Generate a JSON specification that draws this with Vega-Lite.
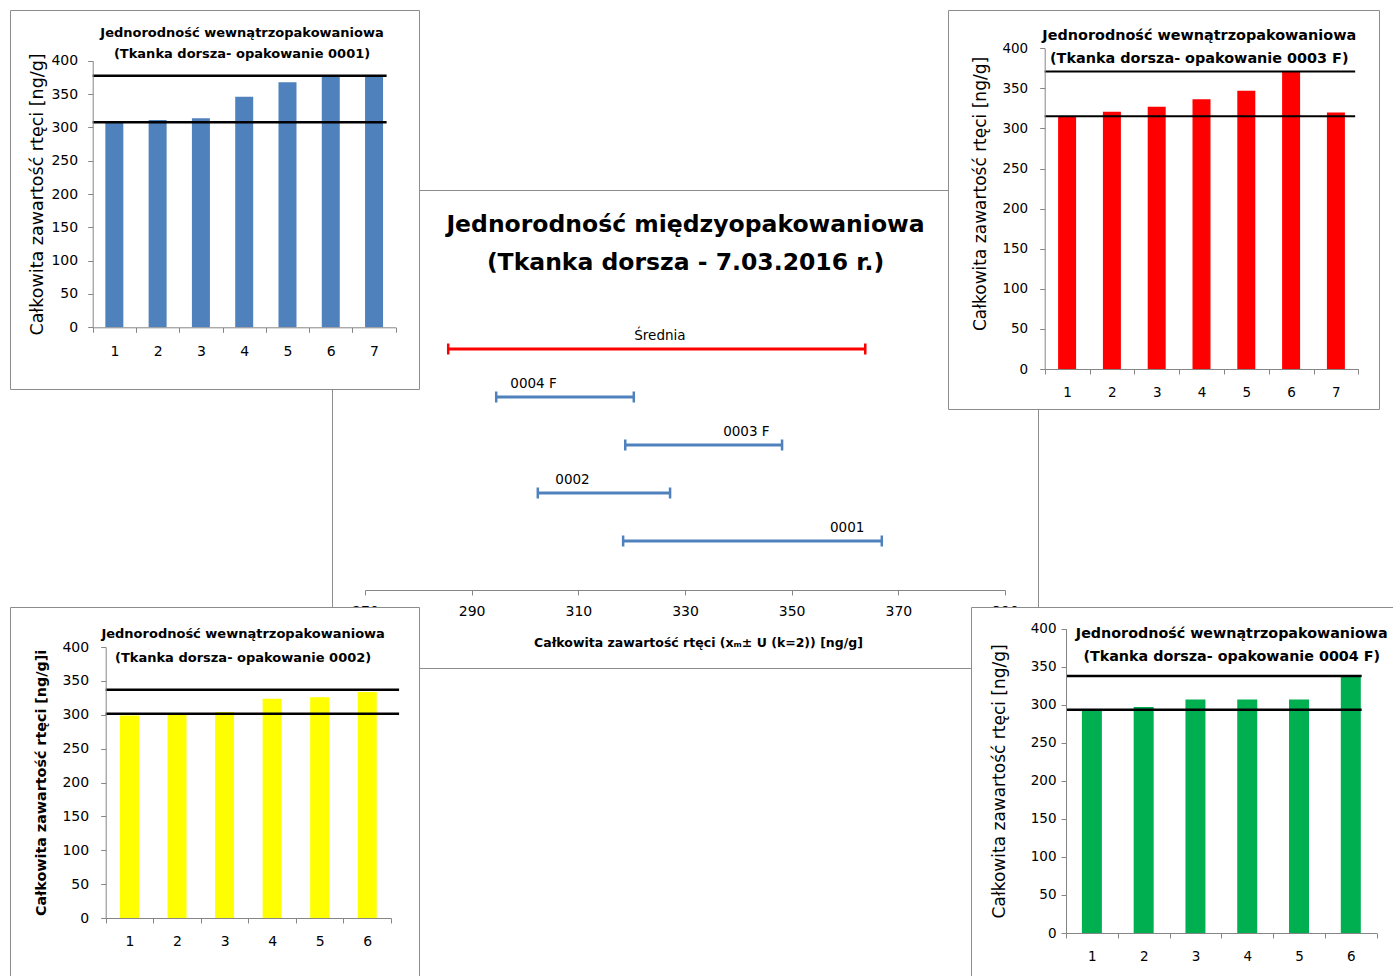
{
  "$schema": "https://vega.github.io/schema/vega-lite/v6.json",
  "width": 1393,
  "height": 976,
  "padding": 0,
  "autosize": {"type": "none"},
  "background": "#ffffff",
  "config": {
    "view": {"stroke": null},
    "font": "DejaVu Sans",
    "text": {"font": "DejaVu Sans", "color": "#000000"},
    "scale": {"zero": false, "continuousPadding": 0},
    "axis": {
      "grid": false,
      "domainColor": "#868686",
      "tickColor": "#868686",
      "labelColor": "#000000",
      "titleColor": "#000000",
      "tickSize": 5,
      "labelFont": "DejaVu Sans",
      "titleFont": "DejaVu Sans",
      "labelFlush": false,
      "labelOverlap": false
    }
  },
  "layer": [
    {
      "layer": [
        {
          "data": {"values": [{"k": 1}]},
          "layer": [
            {
              "mark": {"type": "rect", "filled": false, "stroke": "#8c8c8c", "strokeWidth": 1},
              "encoding": {
                "x": {"datum": 0, "type": "quantitative", "scale": {"domain": [0, 1], "range": [332.5, 1038.5], "nice": false}, "axis": null},
                "x2": {"datum": 1},
                "y": {"datum": 0, "type": "quantitative", "scale": {"domain": [0, 1], "range": [190.5, 668.5], "nice": false}, "axis": null},
                "y2": {"datum": 1}
              }
            },
            {
              "mark": {"type": "text", "fontWeight": "bold", "fontSize": 23.5, "lineHeight": 38, "align": "center", "baseline": "middle"},
              "encoding": {
                "x": {"datum": 0.5, "type": "quantitative", "axis": null},
                "y": {"datum": 0.072, "type": "quantitative", "axis": null},
                "text": {"value": ["Jednorodność międzyopakowaniowa", "(Tkanka dorsza - 7.03.2016 r.)"]}
              }
            }
          ]
        },
        {
          "data": {"values": [
            {"name": "Średnia", "lo": 285.6, "hi": 363.8, "lx": 325.3},
            {"name": "0004 F", "lo": 294.6, "hi": 320.4, "lx": 301.6},
            {"name": "0003 F", "lo": 318.8, "hi": 348.2, "lx": 341.5},
            {"name": "0002", "lo": 302.4, "hi": 327.2, "lx": 308.9},
            {"name": "0001", "lo": 318.4, "hi": 366.9, "lx": 360.4}
          ]},
          "layer": [
            {
              "mark": {"type": "rule", "strokeWidth": 3},
              "encoding": {
                "x": {"field": "lo", "type": "quantitative",
                  "scale": {"domain": [270, 390], "range": [365, 1005], "nice": false, "padding": 0},
                  "axis": {"orient": "bottom", "offset": -386, "values": [270, 290, 310, 330, 350, 370, 390],
                    "labelFontSize": 14, "labelPadding": 9,
                    "title": "Całkowita zawartość rtęci (xₘ± U (k=2)) [ng/g]",
                    "titleFontSize": 12.5, "titleFontWeight": "bold", "titleX": 698, "titleY": 46,
                    "titleBaseline": "top", "titleAlign": "center", "zindex": 0}},
                "x2": {"field": "hi"},
                "y": {"field": "name", "type": "nominal",
                  "scale": {"type": "point", "domain": ["Średnia", "0004 F", "0003 F", "0002", "0001"], "range": [349, 541], "padding": 0},
                  "axis": null},
                "color": {"field": "name", "type": "nominal",
                  "scale": {"domain": ["Średnia", "0004 F", "0003 F", "0002", "0001"], "range": ["#ff0000", "#4f81bd", "#4f81bd", "#4f81bd", "#4f81bd"]},
                  "legend": null}
              }
            },
            {
              "mark": {"type": "tick", "thickness": 2.5, "size": 11, "opacity": 1},
              "encoding": {
                "x": {"field": "lo", "type": "quantitative"},
                "y": {"field": "name", "type": "nominal", "axis": null},
                "color": {"field": "name", "type": "nominal", "legend": null}
              }
            },
            {
              "mark": {"type": "tick", "thickness": 2.5, "size": 11, "opacity": 1},
              "encoding": {
                "x": {"field": "hi", "type": "quantitative"},
                "y": {"field": "name", "type": "nominal", "axis": null},
                "color": {"field": "name", "type": "nominal", "legend": null}
              }
            },
            {
              "mark": {"type": "text", "fontSize": 13.5, "dy": -13, "align": "center", "baseline": "middle", "color": "#000000"},
              "encoding": {
                "x": {"field": "lx", "type": "quantitative"},
                "y": {"field": "name", "type": "nominal", "axis": null},
                "text": {"field": "name", "type": "nominal"}
              }
            }
          ]
        }
      ],
      "resolve": {"scale": {"x": "independent", "y": "independent"}}
    },
    {
      "layer": [
        {
          "data": {"values": [{"k": 1}]},
          "mark": {"type": "rect", "fill": "#ffffff", "stroke": "#8c8c8c", "strokeWidth": 1},
          "encoding": {
            "x": {"datum": 0, "type": "quantitative", "scale": {"domain": [0, 1], "range": [10.5, 419.5], "nice": false}, "axis": null},
            "x2": {"datum": 1},
            "y": {"datum": 0, "type": "quantitative", "scale": {"domain": [0, 1], "range": [10.5, 389.5], "nice": false}, "axis": null},
            "y2": {"datum": 1}
          }
        },
        {
          "layer": [
            {
              "data": {"values": [
                {"n": 1, "v": 308}, {"n": 2, "v": 311}, {"n": 3, "v": 313.5}, {"n": 4, "v": 346},
                {"n": 5, "v": 367.5}, {"n": 6, "v": 377.5}, {"n": 7, "v": 377.5}
              ]},
              "mark": {"type": "bar", "color": "#4f81bd", "width": 18, "orient": "vertical"},
              "encoding": {
                "x": {"field": "n", "type": "quantitative",
                  "scale": {"domain": [0.5, 7.5], "range": [92.7, 395.7], "nice": false, "padding": 0},
                  "axis": {"orient": "bottom", "offset": -648.7, "values": [0.5, 1.5, 2.5, 3.5, 4.5, 5.5, 6.5, 7.5],
                    "labelExpr": "datum.value < 7 ? format(datum.value + 0.5, 'd') : ''",
                    "labelOffset": 21.65, "labelFontSize": 14, "labelPadding": 12, "title": null, "zindex": 1}},
                "y": {"field": "v", "type": "quantitative",
                  "scale": {"domain": [0, 400], "range": [327.3, 60.7], "nice": false},
                  "axis": {"orient": "left", "offset": -92.7, "values": [0, 50, 100, 150, 200, 250, 300, 350, 400],
                    "labelFontSize": 14, "labelPadding": 10,
                    "title": "Całkowita zawartość rtęci [ng/g]", "titleFontSize": 17.5, "titleFontWeight": "normal",
                    "titlePadding": 4, "zindex": 1}}
              }
            },
            {
              "data": {"values": [{"t": 377.5}, {"t": 307.5}]},
              "mark": {"type": "rule", "color": "#000000", "strokeWidth": 2.5},
              "encoding": {
                "x": {"datum": 0.5, "type": "quantitative"},
                "x2": {"datum": 7.29},
                "y": {"field": "t", "type": "quantitative"}
              }
            },
            {
              "data": {"values": [{"k": 1}]},
              "mark": {"type": "text", "fontWeight": "bold", "fontSize": 13, "lineHeight": 21.3, "align": "center", "baseline": "middle"},
              "encoding": {
                "x": {"datum": 3.95, "type": "quantitative"},
                "y": {"datum": 442, "type": "quantitative"},
                "text": {"value": ["Jednorodność wewnątrzopakowaniowa", "(Tkanka dorsza- opakowanie 0001)"]}
              }
            }
          ]
        }
      ],
      "resolve": {"scale": {"x": "independent", "y": "independent"}}
    },
    {
      "layer": [
        {
          "data": {"values": [{"k": 1}]},
          "mark": {"type": "rect", "fill": "#ffffff", "stroke": "#8c8c8c", "strokeWidth": 1},
          "encoding": {
            "x": {"datum": 0, "type": "quantitative", "scale": {"domain": [0, 1], "range": [948.5, 1379.5], "nice": false}, "axis": null},
            "x2": {"datum": 1},
            "y": {"datum": 0, "type": "quantitative", "scale": {"domain": [0, 1], "range": [10.5, 409.5], "nice": false}, "axis": null},
            "y2": {"datum": 1}
          }
        },
        {
          "layer": [
            {
              "data": {"values": [
                {"n": 1, "v": 315}, {"n": 2, "v": 321}, {"n": 3, "v": 327}, {"n": 4, "v": 336.4},
                {"n": 5, "v": 347}, {"n": 6, "v": 371}, {"n": 7, "v": 320}
              ]},
              "mark": {"type": "bar", "color": "#ff0000", "width": 18, "orient": "vertical"},
              "encoding": {
                "x": {"field": "n", "type": "quantitative",
                  "scale": {"domain": [0.5, 7.5], "range": [1044.7, 1358.3], "nice": false, "padding": 0},
                  "axis": {"orient": "bottom", "offset": -607, "values": [0.5, 1.5, 2.5, 3.5, 4.5, 5.5, 6.5, 7.5],
                    "labelExpr": "datum.value < 7 ? format(datum.value + 0.5, 'd') : ''",
                    "labelOffset": 22.4, "labelFontSize": 13.5, "labelPadding": 11, "title": null, "zindex": 1}},
                "y": {"field": "v", "type": "quantitative",
                  "scale": {"domain": [0, 400], "range": [369, 48.3], "nice": false},
                  "axis": {"orient": "left", "offset": -1044.7, "values": [0, 50, 100, 150, 200, 250, 300, 350, 400],
                    "labelFontSize": 13.5, "labelPadding": 12,
                    "title": "Całkowita zawartość rtęci [ng/g]", "titleFontSize": 17, "titleFontWeight": "normal",
                    "titlePadding": 12, "titleY": 193.5, "zindex": 1}}
              }
            },
            {
              "data": {"values": [{"t": 371}, {"t": 315.2}]},
              "mark": {"type": "rule", "color": "#000000", "strokeWidth": 2},
              "encoding": {
                "x": {"datum": 0.5, "type": "quantitative"},
                "x2": {"datum": 7.43},
                "y": {"field": "t", "type": "quantitative"}
              }
            },
            {
              "data": {"values": [{"k": 1}]},
              "mark": {"type": "text", "fontWeight": "bold", "fontSize": 14.4, "lineHeight": 23.3, "align": "center", "baseline": "middle"},
              "encoding": {
                "x": {"datum": 3.95, "type": "quantitative"},
                "y": {"datum": 415.3, "type": "quantitative"},
                "text": {"value": ["Jednorodność wewnątrzopakowaniowa", "(Tkanka dorsza- opakowanie 0003 F)"]}
              }
            }
          ]
        }
      ],
      "resolve": {"scale": {"x": "independent", "y": "independent"}}
    },
    {
      "layer": [
        {
          "data": {"values": [{"k": 1}]},
          "mark": {"type": "rect", "fill": "#ffffff", "stroke": "#8c8c8c", "strokeWidth": 1},
          "encoding": {
            "x": {"datum": 0, "type": "quantitative", "scale": {"domain": [0, 1], "range": [10.5, 419.5], "nice": false}, "axis": null},
            "x2": {"datum": 1},
            "y": {"datum": 0, "type": "quantitative", "scale": {"domain": [0, 1], "range": [607.5, 1000], "nice": false}, "axis": null},
            "y2": {"datum": 1}
          }
        },
        {
          "layer": [
            {
              "data": {"values": [
                {"n": 1, "v": 299}, {"n": 2, "v": 300.6}, {"n": 3, "v": 304}, {"n": 4, "v": 323.7},
                {"n": 5, "v": 326}, {"n": 6, "v": 333.6}
              ]},
              "mark": {"type": "bar", "color": "#ffff00", "width": 19, "orient": "vertical"},
              "encoding": {
                "x": {"field": "n", "type": "quantitative",
                  "scale": {"domain": [0.5, 6.5], "range": [105.7, 391], "nice": false, "padding": 0},
                  "axis": {"orient": "bottom", "offset": -58, "values": [0.5, 1.5, 2.5, 3.5, 4.5, 5.5, 6.5],
                    "labelExpr": "datum.value < 6 ? format(datum.value + 0.5, 'd') : ''",
                    "labelOffset": 23.78, "labelFontSize": 14, "labelPadding": 11, "title": null, "zindex": 1}},
                "y": {"field": "v", "type": "quantitative",
                  "scale": {"domain": [0, 400], "range": [918, 647], "nice": false},
                  "axis": {"orient": "left", "offset": -105.7, "values": [0, 50, 100, 150, 200, 250, 300, 350, 400],
                    "labelFontSize": 14, "labelPadding": 12,
                    "title": "Całkowita zawartość rtęci [ng/g]i", "titleFontSize": 14.3, "titleFontWeight": "bold",
                    "titlePadding": 13, "zindex": 1}}
              }
            },
            {
              "data": {"values": [{"t": 337}, {"t": 301.6}]},
              "mark": {"type": "rule", "color": "#000000", "strokeWidth": 2.5},
              "encoding": {
                "x": {"datum": 0.5, "type": "quantitative"},
                "x2": {"datum": 6.67},
                "y": {"field": "t", "type": "quantitative"}
              }
            },
            {
              "data": {"values": [{"k": 1}]},
              "mark": {"type": "text", "fontWeight": "bold", "fontSize": 13, "lineHeight": 23.4, "align": "center", "baseline": "middle"},
              "encoding": {
                "x": {"datum": 3.39, "type": "quantitative"},
                "y": {"datum": 418.7, "type": "quantitative"},
                "text": {"value": ["Jednorodność wewnątrzopakowaniowa", "(Tkanka dorsza- opakowanie 0002)"]}
              }
            }
          ]
        }
      ],
      "resolve": {"scale": {"x": "independent", "y": "independent"}}
    },
    {
      "layer": [
        {
          "data": {"values": [{"k": 1}]},
          "mark": {"type": "rect", "fill": "#ffffff", "stroke": "#8c8c8c", "strokeWidth": 1},
          "encoding": {
            "x": {"datum": 0, "type": "quantitative", "scale": {"domain": [0, 1], "range": [971.5, 1410], "nice": false}, "axis": null},
            "x2": {"datum": 1},
            "y": {"datum": 0, "type": "quantitative", "scale": {"domain": [0, 1], "range": [607.5, 1000], "nice": false}, "axis": null},
            "y2": {"datum": 1}
          }
        },
        {
          "layer": [
            {
              "data": {"values": [
                {"n": 1, "v": 293.5}, {"n": 2, "v": 297}, {"n": 3, "v": 307}, {"n": 4, "v": 307},
                {"n": 5, "v": 307}, {"n": 6, "v": 338.7}
              ]},
              "mark": {"type": "bar", "color": "#00b050", "width": 20, "orient": "vertical"},
              "encoding": {
                "x": {"field": "n", "type": "quantitative",
                  "scale": {"domain": [0.5, 6.5], "range": [1066, 1376.7], "nice": false, "padding": 0},
                  "axis": {"orient": "bottom", "offset": -43, "values": [0.5, 1.5, 2.5, 3.5, 4.5, 5.5, 6.5],
                    "labelExpr": "datum.value < 6 ? format(datum.value + 0.5, 'd') : ''",
                    "labelOffset": 25.9, "labelFontSize": 13.5, "labelPadding": 11, "title": null, "zindex": 1}},
                "y": {"field": "v", "type": "quantitative",
                  "scale": {"domain": [0, 400], "range": [933, 628.7], "nice": false},
                  "axis": {"orient": "left", "offset": -1066, "values": [0, 50, 100, 150, 200, 250, 300, 350, 400],
                    "labelFontSize": 13.5, "labelPadding": 5,
                    "title": "Całkowita zawartość rtęci [ng/g]", "titleFontSize": 17, "titleFontWeight": "normal",
                    "titlePadding": 22, "zindex": 1}}
              }
            },
            {
              "data": {"values": [{"t": 337.8}, {"t": 293.5}]},
              "mark": {"type": "rule", "color": "#000000", "strokeWidth": 2.5},
              "encoding": {
                "x": {"datum": 0.5, "type": "quantitative"},
                "x2": {"datum": 6.21},
                "y": {"field": "t", "type": "quantitative"}
              }
            },
            {
              "data": {"values": [{"k": 1}]},
              "mark": {"type": "text", "fontWeight": "bold", "fontSize": 14.3, "lineHeight": 23.3, "align": "center", "baseline": "middle"},
              "encoding": {
                "x": {"datum": 3.7, "type": "quantitative"},
                "y": {"datum": 393.4, "type": "quantitative"},
                "text": {"value": ["Jednorodność wewnątrzopakowaniowa", "(Tkanka dorsza- opakowanie 0004 F)"]}
              }
            }
          ]
        }
      ],
      "resolve": {"scale": {"x": "independent", "y": "independent"}}
    }
  ],
  "resolve": {"scale": {"x": "independent", "y": "independent"}}
}
